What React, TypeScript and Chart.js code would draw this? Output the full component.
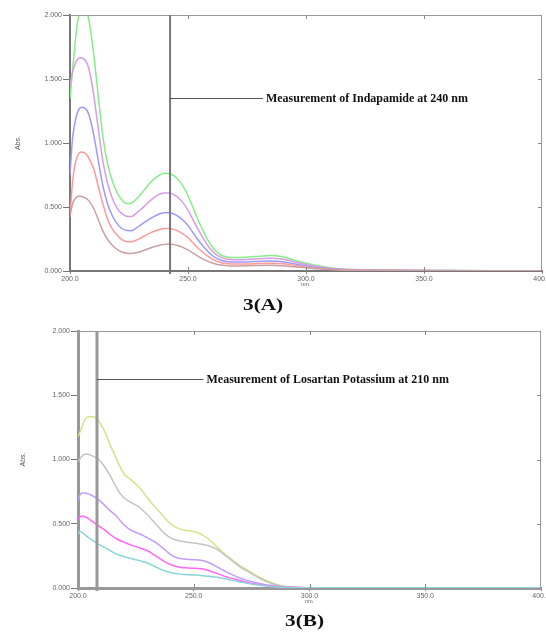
import React, { useEffect, useRef } from 'react';
import { Chart, registerables } from 'chart.js';

Chart.register(...registerables);

// ---------- Figure 3(A): Indapamide ----------
const WAVELENGTH_A = [
  200, 201, 202, 203, 204, 205, 206, 207, 208,
  210, 212, 214, 216, 218, 220, 222, 224, 226, 228, 230, 232, 234, 236, 238, 240,
  242, 244, 246, 248, 250, 252, 254, 256, 258, 260, 262, 264, 266, 268, 270,
  275, 280, 285, 290, 295, 300, 305, 310, 315, 320,
  330, 340, 350, 360, 380, 400,
];
const A_GREEN = [
  1.35, 1.55, 1.75, 1.92, 2.02, 2.06, 2.07, 2.04, 1.96,
  1.70, 1.36, 1.04, 0.83, 0.70, 0.61, 0.555, 0.527, 0.53, 0.56, 0.60, 0.645, 0.69, 0.725, 0.75, 0.763,
  0.76, 0.745, 0.71, 0.66, 0.59, 0.50, 0.41, 0.33, 0.255, 0.195, 0.152, 0.125, 0.112, 0.106, 0.105,
  0.108, 0.115, 0.122, 0.112, 0.085, 0.06, 0.042, 0.026, 0.016, 0.011,
  0.007, 0.005, 0.004, 0.003, 0.002, 0.002,
];
const A_PURPLE = [
  1.45, 1.55, 1.61, 1.65, 1.665, 1.665, 1.655, 1.63, 1.58,
  1.38, 1.11, 0.85, 0.68, 0.565, 0.49, 0.448, 0.427, 0.425, 0.45, 0.48, 0.515, 0.55, 0.58, 0.60, 0.61,
  0.61, 0.597, 0.57, 0.53, 0.475, 0.405, 0.335, 0.27, 0.21, 0.163, 0.128, 0.106, 0.094, 0.089, 0.088,
  0.09, 0.095, 0.1, 0.094, 0.072, 0.05, 0.034, 0.021, 0.013, 0.009,
  0.006, 0.005, 0.004, 0.003, 0.002, 0.002,
];
const A_BLUE = [
  0.75, 1.02, 1.15, 1.23, 1.27, 1.28, 1.275, 1.26, 1.22,
  1.07, 0.86, 0.66, 0.52, 0.43, 0.368, 0.332, 0.316, 0.315, 0.335, 0.36, 0.385, 0.41, 0.43, 0.447, 0.455,
  0.455, 0.445, 0.425, 0.395, 0.355, 0.303, 0.25, 0.203, 0.16, 0.125, 0.1, 0.084, 0.075, 0.071, 0.07,
  0.071, 0.075, 0.078, 0.073, 0.056, 0.04, 0.027, 0.017, 0.011, 0.007,
  0.005, 0.004, 0.003, 0.003, 0.002, 0.002,
];
const A_RED = [
  0.42, 0.68, 0.82, 0.89, 0.925, 0.93, 0.925, 0.91, 0.88,
  0.80, 0.66, 0.52, 0.40, 0.325, 0.28, 0.245, 0.228, 0.228, 0.24, 0.258, 0.278, 0.298, 0.313, 0.325, 0.332,
  0.332, 0.325, 0.31, 0.288, 0.26, 0.222, 0.184, 0.15, 0.12, 0.095, 0.077, 0.065, 0.058, 0.055, 0.054,
  0.055, 0.058, 0.06, 0.056, 0.044, 0.032, 0.021, 0.013, 0.008, 0.006,
  0.004, 0.003, 0.003, 0.002, 0.002, 0.001,
];
const A_BROWN = [
  0.43, 0.52, 0.56, 0.58, 0.585, 0.582, 0.575, 0.565, 0.548,
  0.49, 0.40, 0.31, 0.245, 0.2, 0.168, 0.148, 0.138, 0.137, 0.142, 0.153, 0.166, 0.18, 0.192, 0.202, 0.208,
  0.21, 0.206, 0.197, 0.183, 0.165, 0.142, 0.118, 0.097, 0.079, 0.064, 0.053, 0.046, 0.042, 0.04, 0.04,
  0.041, 0.043, 0.044, 0.041, 0.033, 0.025, 0.017, 0.011, 0.007, 0.005,
  0.003, 0.003, 0.002, 0.002, 0.001, 0.001,
];

// ---------- Figure 3(B): Losartan Potassium ----------
const WAVELENGTH_B = [
  200, 201, 202, 203, 204,
  206, 208, 210, 212, 214, 216, 218, 220, 222, 224, 226, 228, 230, 232, 234, 236, 238, 240, 242, 244, 246,
  248, 250, 252, 254, 256, 258, 260, 262, 264, 266, 268, 270, 272, 274, 276, 278, 280, 282, 284, 286, 288, 290,
  295, 300, 310, 320, 340, 360, 380, 400,
];
const B_YELLOW = [
  1.18, 1.22, 1.27, 1.31, 1.33,
  1.335, 1.32, 1.27, 1.2, 1.11, 1.03, 0.95, 0.885, 0.855, 0.825, 0.79, 0.75, 0.70, 0.655, 0.615, 0.575, 0.535, 0.5, 0.475, 0.46, 0.45,
  0.445, 0.438, 0.428, 0.41, 0.385, 0.355, 0.32, 0.287, 0.255, 0.228, 0.2, 0.175, 0.152, 0.13, 0.108, 0.088, 0.07, 0.053, 0.039, 0.027, 0.018, 0.011,
  0.004, 0.002, 0.001, 0.001, 0.001, 0.001, 0.001, 0.001,
];
const B_GRAY = [
  0.98, 1.01, 1.03, 1.04, 1.04,
  1.03, 1.01, 0.98, 0.93, 0.87, 0.8, 0.74, 0.7, 0.675, 0.655, 0.635, 0.605, 0.57, 0.53, 0.49, 0.45, 0.415, 0.39, 0.375, 0.365, 0.36,
  0.355, 0.35, 0.345, 0.338, 0.33, 0.318, 0.3, 0.275, 0.248, 0.22, 0.192, 0.165, 0.142, 0.122, 0.1, 0.08, 0.062, 0.046, 0.033, 0.022, 0.014, 0.009,
  0.004, 0.002, 0.001, 0.001, 0.001, 0.001, 0.001, 0.001,
];
const B_LAVENDER = [
  0.68, 0.73, 0.74, 0.74, 0.735,
  0.72, 0.70, 0.67, 0.635, 0.6, 0.57, 0.53, 0.49, 0.46, 0.44, 0.425, 0.41, 0.39, 0.37, 0.35, 0.32, 0.29, 0.26, 0.24, 0.23, 0.225,
  0.222, 0.22, 0.218, 0.212, 0.2, 0.185, 0.165, 0.145, 0.125, 0.108, 0.092, 0.078, 0.065, 0.054, 0.045, 0.037, 0.03, 0.024, 0.019, 0.014, 0.01, 0.007,
  0.003, 0.002, 0.001, 0.001, 0.001, 0.001, 0.001, 0.001,
];
const B_MAGENTA = [
  0.53, 0.555, 0.56, 0.555, 0.545,
  0.52, 0.495, 0.47, 0.445, 0.415, 0.39, 0.37, 0.355, 0.34, 0.328, 0.316, 0.303, 0.29, 0.268, 0.245, 0.22, 0.2, 0.183, 0.17, 0.162, 0.157,
  0.155, 0.154, 0.152, 0.147, 0.138, 0.127, 0.114, 0.1, 0.088, 0.077, 0.067, 0.057, 0.048, 0.04, 0.033, 0.027, 0.022, 0.017, 0.013, 0.01, 0.007, 0.005,
  0.003, 0.002, 0.001, 0.001, 0.001, 0.001, 0.001, 0.001,
];
const B_CYAN = [
  0.42, 0.44, 0.43, 0.415, 0.4,
  0.375, 0.35, 0.33, 0.31, 0.29, 0.27, 0.255, 0.243, 0.233, 0.224, 0.215, 0.205, 0.195, 0.178, 0.16, 0.143, 0.13, 0.12, 0.113, 0.108, 0.105,
  0.103, 0.101, 0.099, 0.096, 0.092, 0.088, 0.083, 0.077, 0.07, 0.062, 0.054, 0.047, 0.04, 0.034, 0.028, 0.023, 0.019, 0.015, 0.011, 0.008, 0.006, 0.004,
  0.002, 0.001, 0.001, 0.001, 0.001, 0.001, 0.001, 0.001,
];

const Y_TICKS = [0, 0.5, 1, 1.5, 2];
const X_TICKS = [200, 250, 300, 350, 400];

const framePlugin = {
  id: 'frame',
  afterDatasetsDraw(chart: any, _args: any, opts: any) {
    const { ctx, chartArea: a } = chart;
    const x = chart.scales.x;
    const y = chart.scales.y;
    ctx.save();
    // top and right borders
    ctx.strokeStyle = '#9a9a9a';
    ctx.lineWidth = 1;
    ctx.beginPath();
    ctx.moveTo(a.left, a.top + 0.5);
    ctx.lineTo(a.right, a.top + 0.5);
    ctx.moveTo(a.right - 0.5, a.top);
    ctx.lineTo(a.right - 0.5, a.bottom);
    ctx.stroke();
    // inward ticks
    ctx.strokeStyle = '#888';
    ctx.beginPath();
    X_TICKS.forEach((v) => {
      const px = Math.round(x.getPixelForValue(v)) + 0.5;
      if (px > a.left + 3 && px < a.right - 3) {
        ctx.moveTo(px, a.top);
        ctx.lineTo(px, a.top + 4);
        ctx.moveTo(px, a.bottom - 4);
        ctx.lineTo(px, a.bottom);
      }
    });
    Y_TICKS.forEach((v) => {
      const py = Math.round(y.getPixelForValue(v)) + 0.5;
      if (py > a.top + 3 && py < a.bottom - 3) {
        ctx.moveTo(a.right - 4, py);
        ctx.lineTo(a.right, py);
      }
    });
    ctx.stroke();
    // measurement line
    const mx = x.getPixelForValue(opts.nm);
    ctx.strokeStyle = opts.lineColor;
    ctx.lineWidth = opts.lineWidth;
    ctx.beginPath();
    ctx.moveTo(mx, a.top);
    ctx.lineTo(mx, a.bottom + 3);
    ctx.stroke();
    // label connector
    const ly = Math.round(y.getPixelForValue(opts.labelAbs)) + 0.5;
    const tx = x.getPixelForValue(opts.textNm);
    ctx.strokeStyle = '#555';
    ctx.lineWidth = 1;
    ctx.beginPath();
    ctx.moveTo(mx, ly);
    ctx.lineTo(tx - 3, ly);
    ctx.stroke();
    ctx.font = 'bold 12px "Liberation Serif", serif';
    ctx.fillStyle = '#111';
    ctx.textBaseline = 'middle';
    ctx.textAlign = 'left';
    ctx.fillText(opts.text, tx, ly + 0.5);
    ctx.restore();
  },
};

type Panel = {
  top: number;
  xs: number[];
  series: { data: number[]; color: string }[];
  axisWidth: number;
  padRight: number;
  axisHeight: number;
  yTitlePad: number;
  nmPad: number;
  borderWidth: number;
  borderColor: string;
  frame: any;
};

const PANEL_A: Panel = {
  top: 0,
  xs: WAVELENGTH_A,
  series: [
    { data: A_BROWN, color: '#c9a0a0' },
    { data: A_RED, color: '#ff9a9a' },
    { data: A_BLUE, color: '#9a9aff' },
    { data: A_PURPLE, color: '#d99be6' },
    { data: A_GREEN, color: '#86ee86' },
  ],
  axisWidth: 70,
  padRight: 18,
  axisHeight: 29,
  yTitlePad: 14,
  nmPad: 12,
  borderWidth: 2,
  borderColor: '#777',
  frame: {
    nm: 242.4,
    labelAbs: 1.35,
    textNm: 283,
    text: 'Measurement of Indapamide at 240 nm',
    lineColor: '#777',
    lineWidth: 2,
  },
};

const PANEL_B: Panel = {
  top: 316,
  xs: WAVELENGTH_B,
  series: [
    { data: B_CYAN, color: '#8ad6d6' },
    { data: B_MAGENTA, color: '#ff66ff' },
    { data: B_LAVENDER, color: '#c39cff' },
    { data: B_GRAY, color: '#c4c4c4' },
    { data: B_YELLOW, color: '#cfe58a' },
  ],
  axisWidth: 78,
  padRight: 19,
  axisHeight: 28,
  yTitlePad: 19,
  nmPad: 11,
  borderWidth: 3,
  borderColor: '#999',
  frame: {
    nm: 208.2,
    labelAbs: 1.63,
    textNm: 255.5,
    text: 'Measurement of Losartan Potassium at 210 nm',
    lineColor: '#999',
    lineWidth: 3,
  },
};

function buildConfig(p: Panel): any {
  const tickFont = { family: '"Liberation Sans", Arial, sans-serif', size: 7 };
  return {
    type: 'line',
    data: {
      datasets: p.series.map((s) => ({
        data: p.xs.map((x, i) => ({ x, y: s.data[i] })),
        borderColor: s.color,
        borderWidth: 1.5,
        pointRadius: 0,
        fill: false,
        cubicInterpolationMode: 'monotone',
      })),
    },
    options: {
      responsive: false,
      animation: false,
      events: [],
      layout: { padding: { top: 15, right: p.padRight, left: 0, bottom: 0 } },
      plugins: {
        legend: { display: false },
        tooltip: { enabled: false },
        title: { display: false },
        frame: p.frame,
      },
      scales: {
        x: {
          type: 'linear',
          min: 200,
          max: 400,
          afterBuildTicks: (s: any) => {
            s.ticks = X_TICKS.map((v) => ({ value: v }));
          },
          ticks: {
            callback: (v: any) => Number(v).toFixed(1),
            font: tickFont,
            color: '#666',
            maxRotation: 0,
            autoSkip: false,
            padding: 1,
          },
          grid: { display: true, drawOnChartArea: false, drawTicks: true, tickLength: 3, color: '#888' },
          border: { display: true, color: p.borderColor, width: p.borderWidth },
          title: {
            display: true,
            text: 'nm.',
            font: { family: '"Liberation Sans", Arial, sans-serif', size: 6 },
            color: '#666',
            padding: { top: 0, bottom: p.nmPad },
          },
          afterFit: (s: any) => {
            s.height = p.axisHeight;
          },
        },
        y: {
          min: 0,
          max: 2,
          afterBuildTicks: (s: any) => {
            s.ticks = Y_TICKS.map((v) => ({ value: v }));
          },
          ticks: {
            callback: (v: any) => Number(v).toFixed(3),
            font: tickFont,
            color: '#666',
            padding: 1,
          },
          grid: { display: true, drawOnChartArea: false, drawTicks: true, tickLength: 7, color: '#777' },
          border: { display: true, color: p.borderColor, width: p.borderWidth },
          title: {
            display: true,
            text: 'Abs.',
            font: { family: '"Liberation Sans", Arial, sans-serif', size: 7 },
            color: '#555',
            padding: { top: p.yTitlePad, bottom: 0 },
          },
          afterFit: (s: any) => {
            s.width = p.axisWidth;
          },
        },
      },
    },
    plugins: [framePlugin],
  };
}

function SpectrumPanel({ panel }: { panel: Panel }) {
  const ref = useRef<HTMLCanvasElement>(null);
  useEffect(() => {
    const chart = new Chart(ref.current as HTMLCanvasElement, buildConfig(panel));
    return () => chart.destroy();
  }, [panel]);
  return (
    <canvas
      ref={ref}
      width={560}
      height={300}
      style={{ position: 'absolute', left: 0, top: panel.top, width: 560, height: 300 }}
    />
  );
}

const titleStyle: React.CSSProperties = {
  position: 'absolute',
  fontFamily: '"Liberation Serif", "Times New Roman", serif',
  fontWeight: 'bold',
  fontSize: 17,
  lineHeight: '20px',
  color: '#111',
  whiteSpace: 'nowrap',
  transform: 'scaleX(1.25)',
  transformOrigin: 'left top',
};

export default function App() {
  return (
    <div
      style={{
        position: 'fixed',
        left: 0,
        top: 0,
        width: 546,
        height: 632,
        overflow: 'hidden',
        background: '#fff',
      }}
    >
      <SpectrumPanel panel={PANEL_A} />
      <SpectrumPanel panel={PANEL_B} />
      <div style={{ ...titleStyle, left: 243, top: 295 }}>3(A)</div>
      <div style={{ ...titleStyle, left: 285, top: 611 }}>3(B)</div>
    </div>
  );
}
